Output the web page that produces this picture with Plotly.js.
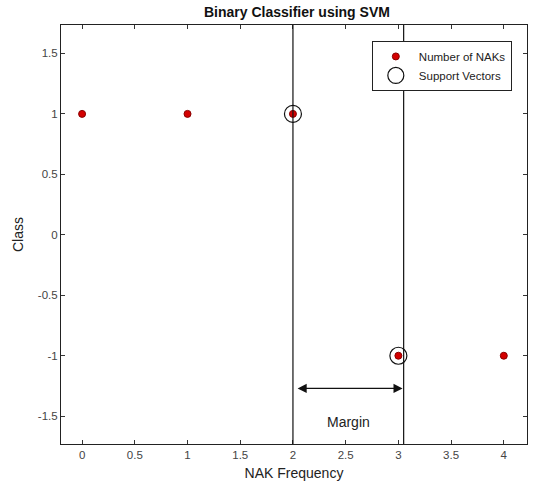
<!DOCTYPE html>
<html>
<head>
<meta charset="utf-8">
<script src="https://cdn.plot.ly/plotly-3.0.1.min.js"></script>
<style>html,body{margin:0;padding:0;background:#fff;}#chart{width:535px;height:499px;}</style>
</head>
<body>
<div id="chart"></div>
<script>
// Data
const nakFrequency = [0, 1, 2, 3, 4];
const classLabel = [1, 1, 1, -1, -1];
const supportX = [2, 3];
const supportY = [1, -1];
const boundaryX = [2, 3.05];
const marginArrow = {x0: 2.03, x1: 3.04, y: -1.27};
const marginLabel = {x: 2.53, y: -1.55, text: 'Margin'};
const xTicks = [0, 0.5, 1, 1.5, 2, 2.5, 3, 3.5, 4];
const yTicks = [-1.5, -1, -0.5, 0, 0.5, 1, 1.5];

const font = 'Liberation Sans, Arial, sans-serif';

const traces = [
  {
    x: supportX, y: supportY, mode: 'markers', type: 'scatter',
    name: 'Support Vectors',
    marker: {color: '#111', size: 17, symbol: 'circle-open', line: {color: '#111', width: 1.2}},
    legendrank: 2
  },
  {
    x: nakFrequency, y: classLabel, mode: 'markers', type: 'scatter',
    name: 'Number of NAKs',
    marker: {color: '#d40000', size: 7, line: {color: '#8a0000', width: 1}},
    legendrank: 1
  }
];

const shapes = boundaryX.map(bx => ({
  type: 'line', xref: 'x', yref: 'paper', x0: bx, x1: bx, y0: 0, y1: 1,
  line: {color: '#111', width: 1.2}
}));

const layout = {
  width: 535, height: 499,
  margin: {l: 61, r: 8, t: 25, b: 55},
  paper_bgcolor: '#fff', plot_bgcolor: '#fff',
  font: {family: font, size: 11, color: '#333'},
  title: {text: '<b>Binary Classifier using SVM</b>', font: {family: font, size: 14, color: '#111'}, x: 0.555, xanchor: 'center', y: 0.985, yanchor: 'top'},
  showlegend: true,
  legend: {x: 0.667, y: 0.962, xanchor: 'left', yanchor: 'top', bgcolor: '#fff', bordercolor: '#222', borderwidth: 1,
    font: {family: font, size: 11.5, color: '#222'}, tracegroupgap: 0, itemsizing: 'trace', itemwidth: 36, traceorder: 'normal'},
  xaxis: {
    range: [-0.2, 4.22], tickvals: xTicks, ticktext: xTicks.map(String),
    ticks: 'inside', ticklen: 4, tickcolor: '#333', mirror: 'ticks', showline: true, linecolor: '#222', linewidth: 1,
    showgrid: false, zeroline: false,
    title: {text: 'NAK Frequency', font: {family: font, size: 14, color: '#222'}, standoff: 8},
    tickfont: {family: font, size: 11.5, color: '#444'}
  },
  yaxis: {
    range: [-1.73, 1.735], tickvals: yTicks, ticktext: yTicks.map(String),
    ticks: 'inside', ticklen: 4, tickcolor: '#333', mirror: 'ticks', showline: true, linecolor: '#222', linewidth: 1,
    showgrid: false, zeroline: false,
    title: {text: 'Class', font: {family: font, size: 14, color: '#222'}, standoff: 10},
    tickfont: {family: font, size: 11.5, color: '#444'}
  },
  shapes: shapes,
  annotations: [
    {
      x: marginArrow.x1, y: marginArrow.y, ax: marginArrow.x0, ay: marginArrow.y,
      xref: 'x', yref: 'y', axref: 'x', ayref: 'y', text: '', showarrow: true,
      arrowhead: 2, startarrowhead: 2, arrowside: 'end+start', arrowsize: 1.3, arrowwidth: 1.4, arrowcolor: '#111'
    },
    {
      x: marginLabel.x, y: marginLabel.y, xref: 'x', yref: 'y', text: marginLabel.text, showarrow: false,
      font: {family: font, size: 14, color: '#222'}
    }
  ]
};

Plotly.newPlot('chart', traces, layout, {displayModeBar: false, staticPlot: true});
</script>
</body>
</html>
